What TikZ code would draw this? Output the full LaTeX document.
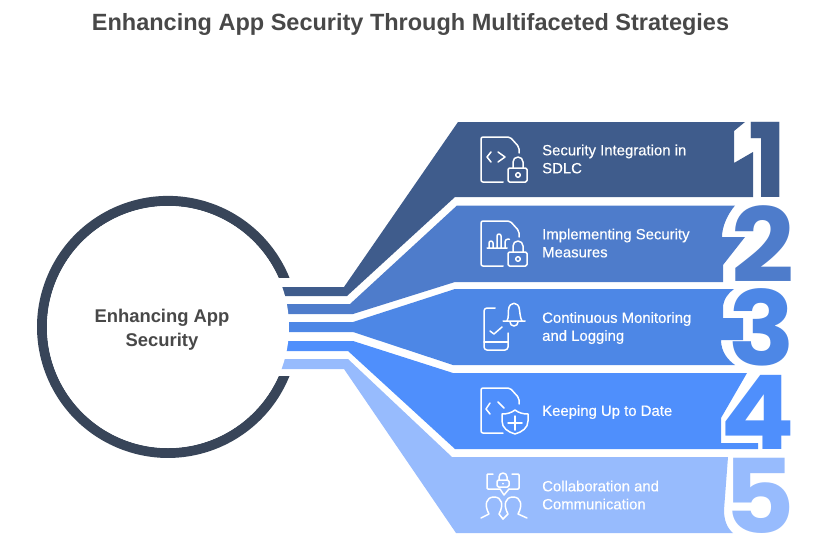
\documentclass[tikz,border=0pt]{standalone}
\usepackage{fontspec}
\setmainfont{Liberation Sans}
\newfontfamily\digitfont{Poppins}[UprightFont=* Bold]
\newfontfamily\labelfont{Liberation Sans}[FakeBold=0.35]
\definecolor{bandA}{HTML}{3F5C8C}
\definecolor{bandB}{HTML}{4E7CCB}
\definecolor{bandC}{HTML}{4D87E6}
\definecolor{bandD}{HTML}{4F8FFC}
\definecolor{bandE}{HTML}{97BBFD}
\definecolor{ringc}{HTML}{384559}
\definecolor{inkc}{HTML}{484848}
\newcommand{\dg}[2][1.07]{\scalebox{#1}[1]{\raisebox{0pt}[66pt][0pt]{#2}}}
\tikzset{
  x=1pt,y=-1pt,
  band/.style={draw=none},
  digit/.style={inner sep=0pt,anchor=base east,font=\digitfont\fontsize{103}{105}\selectfont},
  lbl/.style={inner sep=0pt,anchor=west,align=left,text=white,font=\labelfont\fontsize{14.9}{18}\selectfont},
  icon/.style={draw=white,line width=1.5pt,line cap=round,line join=round},
  pics/docpic/.style={code={\draw[icon,rounded corners=2pt] (503,182)--(481,182)--(481,137)--(510,137)--(519,147)--(519,153);}},
  pics/lockpic/.style={code={
    \draw[icon,rounded corners=1.5pt] (508,168) rectangle (527,182);
    \draw[icon] (513,168)--(513,162) arc[start angle=180,end angle=360,radius=5]--(523,168);
    \draw[icon] (518,175) circle[radius=2.3];}},
}
\begin{document}
\begin{tikzpicture}
\useasboundingbox (0,0) rectangle (836,557);
\node[inner sep=0pt,text=inkc,font=\bfseries\fontsize{23.5}{28}\selectfont] (title) at (410.5,24) {Enhancing App Security Through Multifaceted Strategies};
% ring
\fill[ringc] (289.5,376) arc[start angle=22,end angle=338,radius=131] -- (278.6,278) arc[start angle=336.1,end angle=23.9,radius=121] -- cycle;
% bands
\fill[bandA,band] (270,287)--(344,287)--(458,122)--(745,122)--(734,131)--(734,163)--(753,152)--(753,197)--(455,197)--(347,296)--(270,296)--cycle;
\fill[bandB,band] (270,304)--(350,304)--(457,205.5)--(735,205.5) .. controls (727,215) and (722,227) .. (722,237)--(745,237)--(723,265)--(723,282)--(455,282)--(353,314)--(270,314)--cycle;
\fill[bandC,band] (270,322)--(353,322)--(455,289)--(734,289) .. controls (728,293) and (723,300) .. (723,308)--(723,318)--(743,318)--(743,340)--(721,340) .. controls (721,352) and (728,360) .. (735,365)--(453,365)--(353,332)--(270,332)--cycle;
\fill[bandD,band] (270,341)--(353,341)--(453,373)--(747,373)--(721,418)--(721,443)--(758,443)--(758,449)--(455,449)--(348,351)--(270,351)--cycle;
\fill[bandE,band] (270,359)--(348,359)--(452,457)--(728,457)--(724,510) .. controls (724,520) and (727,528) .. (733,533)--(456,533)--(344,369)--(270,369)--cycle;
% hub
\node[circle,fill=white,inner sep=0pt,minimum size=242pt] (hub) at (168,327) {};
\node[inner sep=0pt,text=inkc,align=center,font=\bfseries\fontsize{18.4}{24}\selectfont] (hubtext) at (162,330) {Enhancing App\\Security};
% digits
\node[digit,text=bandA] (d1) at (787,197) {\dg[1]{1}};
\node[digit,text=bandB] (d2) at (795,282) {\dg{2}};
\node[digit,text=bandC] (d3) at (795,365) {\dg{3}};
\node[digit,text=bandD] (d4) at (795,449) {\dg{4}};
\node[digit,text=bandE] (d5) at (795,533) {\dg{5}};
% labels
\node[lbl] (l1) at (542,159) {Security Integration in\\SDLC};
\node[lbl] (l2) at (542,243) {Implementing Security\\Measures};
\node[lbl] (l3) at (542,328) {Continuous Monitoring\\and Logging};
\node[lbl] (l4) at (542,412) {Keeping Up to Date};
\node[lbl] (l5) at (542,495) {Collaboration and\\Communication};
% icon 1
\pic at (0,0) {docpic};
\draw[icon] (491,152)--(487,157)--(491,162) (498,152)--(505,157)--(498,162);
\pic at (0,0) {lockpic};
% icon 2
\pic at (0,84) {docpic};
\draw[icon] (487,248)--(507,248) (489,248)--(489,243) arc[start angle=180,end angle=360,radius=2]--(493,248) (497,248)--(497,236) arc[start angle=180,end angle=360,radius=2]--(501,248) (505,248)--(505,242) arc[start angle=180,end angle=300,radius=3];
\pic at (0,84) {lockpic};
% icon 3
\draw[icon,rounded corners=3pt] (495,308)--(484,308)--(484,350)--(508,350)--(508,333);
\draw[icon] (484,342)--(508,342);
\draw[icon] (490,331)--(494,334)--(502,327);
\draw[icon] (503,321)--(525,321) (507,321) .. controls (509,317) and (508,313) .. (508.5,310) .. controls (509,301) and (519,301) .. (519.5,310) .. controls (520,313) and (520,317) .. (522,321);
\draw[icon] (510,322) arc[start angle=180,end angle=0,radius=4];
% icon 4
\draw[icon,rounded corners=2pt] (503,433)--(481,433)--(481,388)--(510,388)--(519,398)--(519,404);
\draw[icon] (490,403)--(486,409)--(490,414) (498,402)--(504,408);
\draw[icon] (502,414) .. controls (507,414) and (511,413) .. (515,410) .. controls (519,413) and (523,414) .. (528,414)--(528,421) .. controls (528,428) and (522,432) .. (515,434) .. controls (508,432) and (502,428) .. (502,421)--cycle;
\draw[icon] (515,416)--(515,430) (508,423)--(522,423);
% icon 5
\draw[icon,rounded corners=1pt] (493,474)--(487,474)--(487,489)--(500,489);
\draw[icon,rounded corners=1pt] (512,474)--(519,474)--(519,489)--(509,489);
\draw[icon] (500,489)--(504,495)--(509,489);
\draw[icon,rounded corners=1.5pt] (497,480) rectangle (509,487);
\draw[icon] (499,480)--(499,477) arc[start angle=180,end angle=360,radius=4]--(507,480);
\fill[white] (503,483.5) circle[radius=1];
\draw[icon] (481,518)--(489,514) .. controls (484,505) and (486,497) .. (494,497) .. controls (502,497) and (504,505) .. (499,514)--(503,519);
\draw[icon] (527,518)--(518,514) .. controls (523,505) and (521,497) .. (513,497) .. controls (505,497) and (503,505) .. (508,514)--(503,519);
\end{tikzpicture}
\end{document}
